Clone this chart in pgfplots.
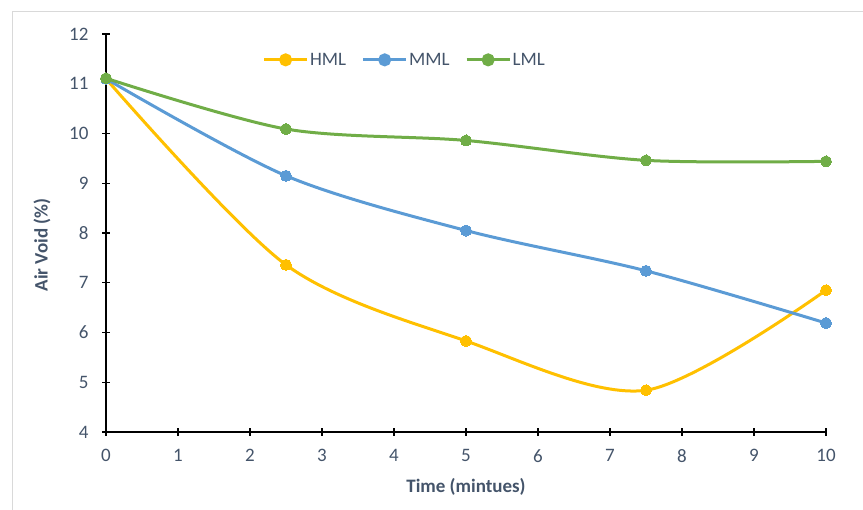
\documentclass[border=0pt]{standalone}
\usepackage{fontspec}
\setmainfont{Carlito}
\usepackage{pgfplots}
\pgfplotsset{compat=1.18}
\definecolor{hml}{HTML}{FFC000}
\definecolor{mml}{HTML}{5B9BD5}
\definecolor{lml}{HTML}{70AD47}
\definecolor{txt}{HTML}{44546A}
\begin{document}
\begin{tikzpicture}[x=1pt,y=1pt]
\useasboundingbox (-106,-78) rectangle (757,432);
\draw[gray!30, line width=1pt] (-93,-80) -- (-93,420) -- (760,420);
\begin{axis}[
  scale only axis,
  width=720pt, height=398pt,
  xmin=0, xmax=10, ymin=4, ymax=12,
  axis x line=bottom, axis y line=left,
  axis line style={black, line width=1.8pt, -},
  xtick={0,...,10}, ytick={4,...,12},
  tick align=center,
  major tick length=8pt,
  tick style={black, line width=1.2pt},
  /pgf/number format/assume math mode=true,
  ticklabel style={font=\fontsize{19}{22}\selectfont, text=txt},
  xticklabel style={yshift=-10pt},
  yticklabel style={xshift=-10pt},
  xlabel={\textbf{Time (mintues)}},
  ylabel={\textbf{Air Void (\%)}},
  label style={font=\fontsize{19}{22}\selectfont, text=txt},
  xlabel style={at={(axis description cs:0.5,0)}, anchor=center, yshift=-55pt},
  ylabel style={at={(axis description cs:-0.0889,0.47)}, anchor=center},
  clip=false,
  legend columns=3,
  legend style={draw=none, fill=none, at={(0.4146,0.935)}, anchor=center,
    font=\fontsize{19}{22}\selectfont, text=txt,
    nodes={inner sep=1.5pt},
    /tikz/every even column/.append style={column sep=14pt}},
  legend image code/.code={
    \draw[#1, mark=none] (0pt,0pt) -- (43pt,0pt);
    \fill[#1] (21.5pt,0pt) circle (5pt);
  },
  every axis plot/.append style={line width=3pt, smooth, tension=0.5,
    mark=*, mark size=5.5pt},
]
\addplot[hml, mark options={fill=hml, draw=none, line width=0pt}] coordinates {(0,11.1) (2.5,7.36) (5,5.83) (7.5,4.84) (10,6.85)};
\addlegendentry{HML}
\addplot[mml, mark options={fill=mml, draw=none, line width=0pt}] coordinates {(0,11.1) (2.5,9.15) (5,8.05) (7.5,7.24) (10,6.19)};
\addlegendentry{MML}
\addplot[lml, mark options={fill=lml, draw=none, line width=0pt}] coordinates {(0,11.11) (2.5,10.09) (5,9.86) (7.5,9.46) (10,9.44)};
\addlegendentry{LML}
\end{axis}
\end{tikzpicture}
\end{document}
